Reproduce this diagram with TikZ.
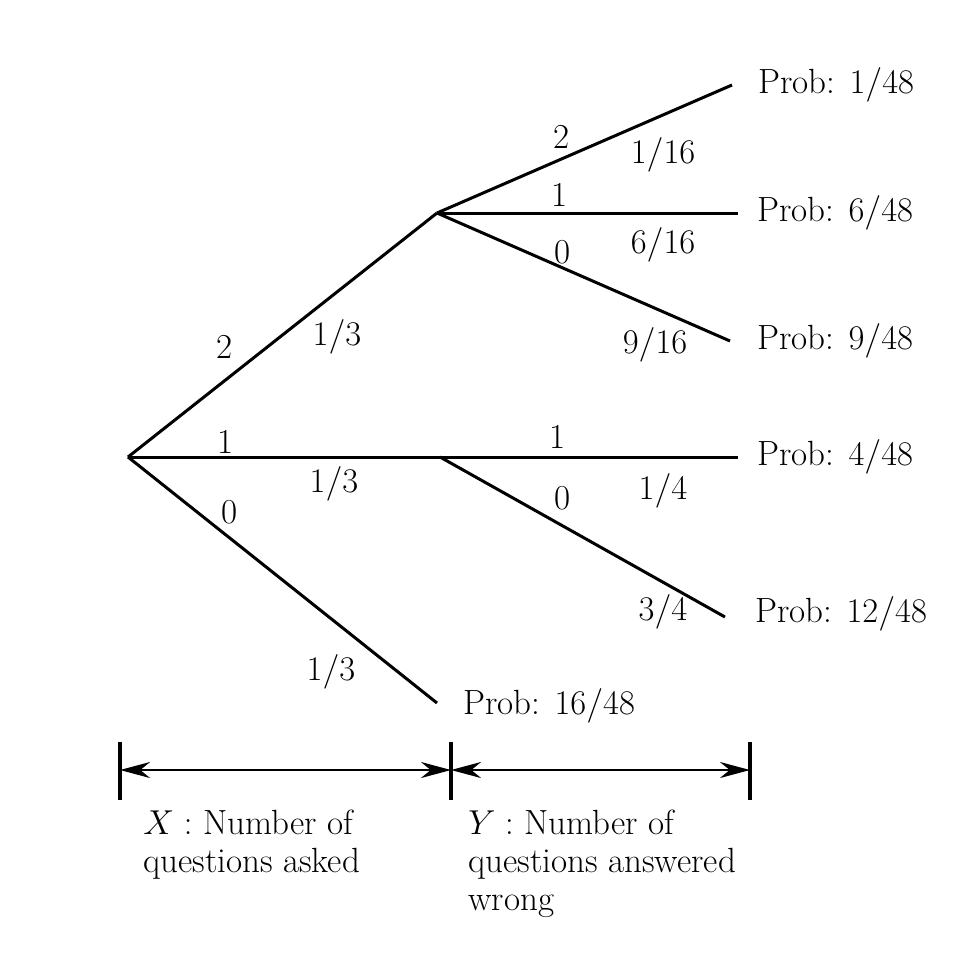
\documentclass[tikz,border=0pt]{standalone}
\usetikzlibrary{arrows.meta}
\begin{document}
\begin{tikzpicture}[x=0.5pt,y=-0.5pt,
  branch/.style={line width=1.5pt},
  lbl/.style={inner sep=0pt,font=\fontsize{17.5}{21}\selectfont},
  prob/.style={inner sep=0pt,anchor=west,font=\fontsize{17.5}{21}\selectfont},
  captxt/.style={inner sep=0pt,anchor=north west,align=left,font=\fontsize{17.5}{19}\selectfont},
  dimbar/.style={line width=1.8pt},
  dimarrow/.style={line width=1.4pt,{Stealth[length=15pt,width=8pt]}-{Stealth[length=15pt,width=8pt]}}]
\useasboundingbox (0,0) rectangle (978,970);
% tree nodes
\coordinate (r) at (128,457);
\coordinate (a) at (437,213);
\coordinate (b) at (440,457);
\coordinate (e1) at (732,85);
\coordinate (e2) at (738,213);
\coordinate (e3) at (730,341);
\coordinate (e4) at (738,457);
\coordinate (e5) at (725,617);
\coordinate (e6) at (437,703);
\draw[branch] (r) -- (a);
\draw[branch] (r) -- (b);
\draw[branch] (r) -- (e6);
\draw[branch] (a) -- (e1);
\draw[branch] (a) -- (e2);
\draw[branch] (a) -- (e3);
\draw[branch] (b) -- (e4);
\draw[branch] (b) -- (e5);
% probabilities
\node[prob] (p1) at (758,85) {Prob: $1/48$};
\node[prob] (p2) at (757,213) {Prob: $6/48$};
\node[prob] (p3) at (757,341) {Prob: $9/48$};
\node[prob] (p4) at (757,457) {Prob: $4/48$};
\node[prob] (p5) at (755,614) {Prob: $12/48$};
\node[prob] (p6) at (463,706) {Prob: $16/48$};
% branch labels
\node[lbl] (l1) at (225,347) {2};
\node[lbl] (l2) at (337,337) {$1/3$};
\node[lbl] (l3) at (226,442) {1};
\node[lbl] (l4) at (334,484) {$1/3$};
\node[lbl] (l5) at (230,512) {0};
\node[lbl] (l6) at (331,672) {$1/3$};
\node[lbl] (l7) at (562,137) {2};
\node[lbl] (l8) at (663,155) {$1/16$};
\node[lbl] (l9) at (560,195) {1};
\node[lbl] (l10) at (663,245) {$6/16$};
\node[lbl] (l11) at (563,252) {0};
\node[lbl] (l12) at (655,345) {$9/16$};
\node[lbl] (l13) at (558,437) {1};
\node[lbl] (l14) at (663,491) {$1/4$};
\node[lbl] (l15) at (563,498) {0};
\node[lbl] (l16) at (663,612) {$3/4$};
% dimension lines
\coordinate (d1t) at (120,742);
\coordinate (d1b) at (120,800);
\coordinate (d2t) at (451,742);
\coordinate (d2b) at (451,800);
\coordinate (d3t) at (750,742);
\coordinate (d3b) at (750,800);
\coordinate (m1) at (120,770);
\coordinate (m2) at (451,770);
\coordinate (m3) at (750,770);
\draw[dimbar] (d1t) -- (d1b);
\draw[dimbar] (d2t) -- (d2b);
\draw[dimbar] (d3t) -- (d3b);
\draw[dimarrow] (m1) -- (m2);
\draw[dimarrow] (m2) -- (m3);
% captions
\node[captxt] (cx) at (143,810) {$X:$ Number of\\questions asked};
\node[captxt] (cy) at (468,810) {$Y:$ Number of\\questions answered\\wrong};
\end{tikzpicture}
\end{document}
